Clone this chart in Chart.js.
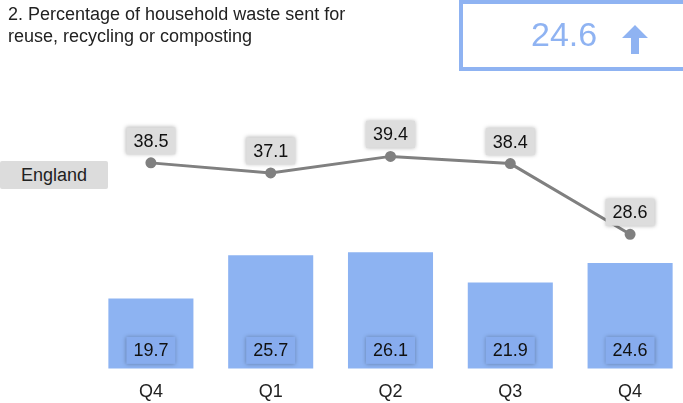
<!DOCTYPE html>
<html>
<head>
<meta charset="utf-8">
<script src="https://cdn.jsdelivr.net/npm/chart.js@4.4.0/dist/chart.umd.min.js"></script>
<style>
  html, body { margin: 0; padding: 0; overflow: hidden; background: #fff; }
  body { width: 683px; height: 403px; position: relative; font-family: "Liberation Sans", Arial, sans-serif; }
  #title { position: absolute; left: 8px; top: 3px; font-size: 18px; line-height: 22px; color: #222; }
  #kpi { position: absolute; left: 459px; top: 0; width: 240px; height: 63px; border: 4px solid #8fb3f2; }
  #kpi span { position: absolute; left: 68px; top: 11px; font-size: 34px; color: #8fb3f2; }
  #kpi svg { position: absolute; left: 157px; top: 19px; }
  #legend { position: absolute; left: 0; top: 161px; width: 108px; height: 28px; background: #dcdcdc; border-radius: 2px;
            font-size: 18px; line-height: 28px; text-align: center; color: #222; }
  #wrap { position: absolute; left: 0; top: 0; width: 683px; height: 403px; overflow: hidden; }
</style>
</head>
<body>
<div id="wrap"><canvas id="myChart" width="697" height="419"></canvas></div>
<div id="title">2. Percentage of household waste sent for<br>reuse, recycling or composting</div>
<div id="kpi"><span>24.6</span>
  <svg width="30" height="32" viewBox="0 0 30 32"><path d="M15 2 L28 15 L19 15 L19 31 L11 31 L11 15 L2 15 Z" fill="#8fb3f2"/></svg>
</div>
<div id="legend">England</div>
<script>
document.addEventListener('DOMContentLoaded', (event) => {
    var quarters = ["Q4", "Q1", "Q2", "Q3", "Q4"];
    var englandValues = [38.5, 37.1, 39.4, 38.4, 28.6];
    var localValues = [19.7, 25.7, 26.1, 21.9, 24.6];

    // boxes with the values, like the original dashboard
    var valueBoxes = {
        id: "valueBoxes",
        afterDatasetsDraw(chart) {
            var ctx = chart.ctx;
            ctx.save();
            ctx.font = "18px 'Liberation Sans', Arial, sans-serif";
            ctx.textAlign = "center";
            ctx.textBaseline = "middle";
            chart.data.datasets.forEach((ds, i) => {
                var meta = chart.getDatasetMeta(i);
                meta.data.forEach((el, j) => {
                    var txt = ds.data[j].toFixed(1);
                    var w = ctx.measureText(txt).width + 14;
                    var h = 27;
                    var cx = el.x;
                    var cy = ds.type === "line" ? el.y - 22 : chart.scales.y.bottom - 18;
                    ctx.shadowColor = "rgba(0,0,0,0.3)";
                    ctx.shadowBlur = 4;
                    ctx.fillStyle = ds.type === "line" ? "#dddddd" : "#87acee";
                    ctx.fillRect(cx - w / 2, cy - h / 2, w, h);
                    ctx.shadowColor = "transparent";
                    ctx.shadowBlur = 0;
                    ctx.fillStyle = "#111";
                    ctx.fillText(txt, cx, cy + 1);
                });
            });
            ctx.restore();
        }
    };

    new Chart("myChart", {
        data: {
            labels: quarters,
            datasets: [{
                type: "line",
                data: englandValues,
                borderColor: "#808080",
                backgroundColor: "#808080",
                borderWidth: 3,
                pointRadius: 4,
                tension: 0,
                order: 0
            }, {
                type: "bar",
                data: localValues,
                backgroundColor: "#8db3f2",
                categoryPercentage: 1,
                barPercentage: 0.71,
                order: 1
            }]
        },
        options: {
            responsive: false,
            animation: false,
            layout: { padding: { left: 91, right: 1, top: 116, bottom: 3 } },
            plugins: {
                legend: { display: false },
                tooltip: { enabled: false }
            },
            scales: {
                x: {
                    grid: { display: false, drawTicks: false },
                    border: { display: false },
                    ticks: { padding: 13, color: "#222", font: { size: 18, family: "'Liberation Sans', Arial, sans-serif" } }
                },
                y: { display: false, min: 10, max: 45 }
            }
        },
        plugins: [valueBoxes]
    });
});
</script>
</body>
</html>
